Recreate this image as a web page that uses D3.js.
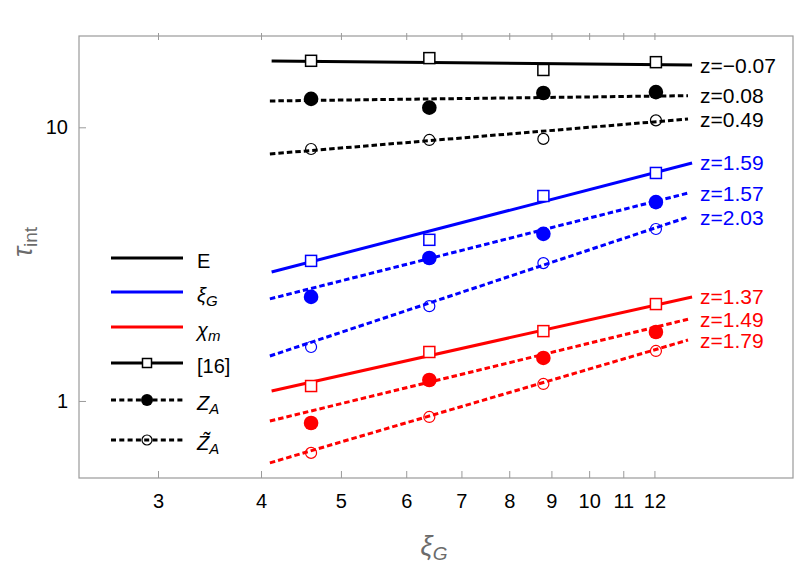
<!DOCTYPE html>
<html>
<head>
<meta charset="utf-8">
<script src="https://cdn.jsdelivr.net/npm/d3@7"></script>
<style>
  body { margin: 0; background: white; }
  text { font-family: "Liberation Sans", Arial, sans-serif; }
</style>
</head>
<body>
<script>
// xi_G of the four lattices
var xiPoints = [4.6, 6.4, 8.8, 12.05];

// tau_int: [16], Z_A, Z~_A for E, xi_G, chi_m
var tauE16   = [17.5, 17.9, 16.2, 17.3];
var tauEZA   = [12.7, 11.8, 13.35, 13.45];
var tauEZt   = [8.33, 8.99, 9.07, 10.6];
var tauXi16  = [3.25, 3.88, 5.61, 6.81];
var tauXiZA  = [2.40, 3.33, 4.08, 5.33];
var tauXiZt  = [1.575, 2.22, 3.19, 4.25];
var tauChi16 = [1.134, 1.51, 1.80, 2.26];
var tauChiZA = [0.831, 1.193, 1.436, 1.787];
var tauChiZt = [0.646, 0.874, 1.154, 1.523];

// fit lines, value at start and end
var fitXSolid  = [4.12, 13.33];
var fitXDashed = [4.1, 13.18];
var fitE16   = [17.47, 16.89];
var fitEZA   = [12.48, 13.05];
var fitEZt   = [7.99, 10.72];
var fitXi16  = [2.96, 7.41];
var fitXiZA  = [2.36, 5.75];
var fitXiZt  = [1.46, 4.70];
var fitChi16 = [1.088, 2.40];
var fitChiZA = [0.845, 1.99];
var fitChiZt = [0.594, 1.67];

var zLabels = ["z=\u22120.07", "z=0.08", "z=0.49",
               "z=1.59", "z=1.57", "z=2.03",
               "z=1.37", "z=1.49", "z=1.79"];

var xTicks = [3, 4, 5, 6, 7, 8, 9, 10, 11, 12];
var yTicks = [1, 10];

var black = "#000000", blue = "#0000ff", red = "#ff0000";

var series = [
  { pts: tauE16,   fit: fitE16,   color: black, kind: "sq",   label: zLabels[0] },
  { pts: tauEZA,   fit: fitEZA,   color: black, kind: "fill", label: zLabels[1] },
  { pts: tauEZt,   fit: fitEZt,   color: black, kind: "open", label: zLabels[2] },
  { pts: tauXi16,  fit: fitXi16,  color: blue,  kind: "sq",   label: zLabels[3] },
  { pts: tauXiZA,  fit: fitXiZA,  color: blue,  kind: "fill", label: zLabels[4] },
  { pts: tauXiZt,  fit: fitXiZt,  color: blue,  kind: "open", label: zLabels[5] },
  { pts: tauChi16, fit: fitChi16, color: red,   kind: "sq",   label: zLabels[6] },
  { pts: tauChiZA, fit: fitChiZA, color: red,   kind: "fill", label: zLabels[7] },
  { pts: tauChiZt, fit: fitChiZt, color: red,   kind: "open", label: zLabels[8] }
];

var width = 796, height = 565;
var plotLeft = 79, plotRight = 793, plotTop = 36, plotBottom = 478;

var svg = d3.select("body").append("svg")
  .attr("width", width)
  .attr("height", height);

var x = d3.scaleLog().domain([2.406, 17.67]).range([plotLeft, plotRight]);
var y = d3.scaleLog().domain([0.523, 21.56]).range([plotBottom, plotTop]);

var frameColor = "#9a9a9a";

// frame
svg.append("rect")
  .attr("x", plotLeft).attr("y", plotTop)
  .attr("width", plotRight - plotLeft).attr("height", plotBottom - plotTop)
  .attr("fill", "none").attr("stroke", frameColor).attr("stroke-width", 1.2);

// bottom axis
var xAxis = svg.append("g").attr("transform", "translate(0," + plotBottom + ")")
  .call(d3.axisBottom(x).tickValues(xTicks).tickFormat(d3.format("d")).tickSizeInner(-7).tickSizeOuter(0).tickPadding(16));
xAxis.select(".domain").remove();
xAxis.selectAll(".tick line").attr("stroke", frameColor);
xAxis.selectAll(".tick text").attr("font-size", 20).attr("fill", "#000")
  .attr("font-family", "Liberation Sans, Arial, sans-serif");

// top ticks
var xTop = svg.append("g").attr("transform", "translate(0," + plotTop + ")")
  .call(d3.axisTop(x).tickValues(xTicks).tickFormat("").tickSizeInner(3).tickSizeOuter(0));
xTop.select(".domain").remove();
xTop.selectAll(".tick line").attr("stroke", frameColor).attr("y1", 4);

// left axis
var yAxis = svg.append("g").attr("transform", "translate(" + plotLeft + ",0)")
  .call(d3.axisLeft(y).tickValues(yTicks).tickFormat(d3.format("d")).tickSizeInner(3).tickSizeOuter(0).tickPadding(8));
yAxis.select(".domain").remove();
yAxis.selectAll(".tick line").attr("stroke", frameColor).attr("x2", 7);
yAxis.selectAll(".tick text").attr("font-size", 20).attr("fill", "#000")
  .attr("font-family", "Liberation Sans, Arial, sans-serif");

// axis titles
var xt = svg.append("text").attr("x", 434).attr("y", 555)
  .attr("text-anchor", "middle").attr("fill", "#6b6b6b").attr("font-style", "italic");
xt.append("tspan").attr("font-size", 27).text("\u03be");
xt.append("tspan").attr("font-size", 19).attr("dy", 5).text("G");

var yt = svg.append("text").attr("transform", "translate(32,242) rotate(-90)")
  .attr("text-anchor", "middle").attr("fill", "#6b6b6b");
yt.append("tspan").attr("font-size", 27).attr("font-style", "italic").text("\u03c4");
yt.append("tspan").attr("font-size", 19).attr("dy", 5).text("int");

var line = d3.line().x(function(d) { return x(d[0]); }).y(function(d) { return y(d[1]); });

// fit lines
series.forEach(function(s) {
  var fx = s.kind == "sq" ? fitXSolid : fitXDashed;
  svg.append("path")
    .attr("d", line([[fx[0], s.fit[0]], [fx[1], s.fit[1]]]))
    .attr("fill", "none")
    .attr("stroke", s.color)
    .attr("stroke-width", 3)
    .attr("stroke-dasharray", s.kind == "sq" ? null : "5.5,3");
  svg.append("text")
    .attr("x", 700)
    .attr("y", y(s.fit[1]))
    .attr("dy", "0.36em")
    .attr("font-size", 21)
    .attr("fill", s.color)
    .text(s.label);
});

function drawMarker(g, kind, color, cx, cy, big) {
  if (kind == "sq") {
    var a = big ? 11 : 9;
    g.append("rect").attr("x", cx - a / 2).attr("y", cy - a / 2)
      .attr("width", a).attr("height", a)
      .attr("fill", "white").attr("stroke", color).attr("stroke-width", 1.5);
  } else if (kind == "fill") {
    g.append("circle").attr("cx", cx).attr("cy", cy).attr("r", big ? 7.3 : 6)
      .attr("fill", color);
  } else {
    g.append("circle").attr("cx", cx).attr("cy", cy).attr("r", big ? 5.5 : 5)
      .attr("fill", "none").attr("stroke", color).attr("stroke-width", 1.2);
  }
}

// data points
var marks = svg.append("g");
series.forEach(function(s) {
  s.pts.forEach(function(v, i) {
    drawMarker(marks, s.kind, s.color, x(xiPoints[i]), y(v), true);
  });
});

// legend
var legendRows = [
  { name: "E", sub: "", italic: false, dash: false, kind: null, color: black },
  { name: "\u03be", sub: "G", italic: true, dash: false, kind: null, color: blue },
  { name: "\u03c7", sub: "m", italic: true, dash: false, kind: null, color: red },
  { name: "[16]", sub: "", italic: false, dash: false, kind: "sq", color: black },
  { name: "Z", sub: "A", italic: true, dash: true, kind: "fill", color: black },
  { name: "Z\u0303", sub: "A", italic: true, dash: true, kind: "open", color: black }
];
var legendY = [258, 292, 327, 363, 400, 440];

var lg = svg.append("g");
legendRows.forEach(function(r, i) {
  var ly = legendY[i];
  lg.append("line").attr("x1", 111).attr("x2", 183).attr("y1", ly).attr("y2", ly)
    .attr("stroke", r.color).attr("stroke-width", 3)
    .attr("stroke-dasharray", r.dash ? "5,3.3" : null);
  if (r.kind) drawMarker(lg, r.kind, r.color, 147, ly, false);
  var t = lg.append("text").attr("x", 197).attr("y", ly + 10).attr("fill", "#000");
  t.append("tspan").attr("font-size", 20).attr("font-style", r.italic ? "italic" : null).text(r.name);
  if (r.sub) t.append("tspan").attr("font-size", 15).attr("font-style", "italic").attr("dy", 4).text(r.sub);
});
</script>
</body>
</html>
